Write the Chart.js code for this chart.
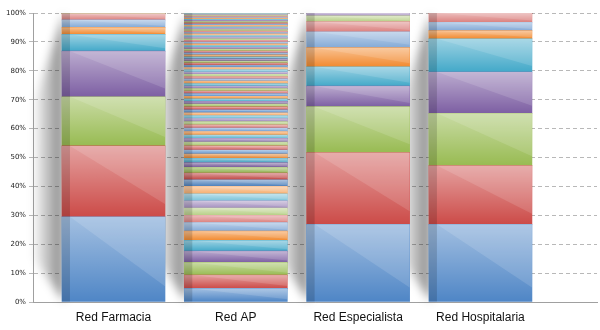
<!DOCTYPE html>
<html>
<head>
<meta charset="utf-8">
<title>Redes</title>
<script src="https://cdn.jsdelivr.net/npm/chart.js@4/dist/chart.umd.min.js"></script>
<style>
  html, body { margin: 0; padding: 0; background: #fff; }
  .chart-container { position: relative; width: 600px; height: 330px; }
</style>
</head>
<body>
<div class="chart-container">
  <canvas id="myChart" width="600" height="330"></canvas>
</div>
<script>
// categories (x axis)
const categories = ['Red Farmacia', 'Red AP', 'Red Especialista', 'Red Hospitalaria'];

// share of each series (%) per network, bottom to top
const redFarmacia = [29.5, 24.5, 17.0, 15.8, 5.8, 2.4, 2.6, 2.1, 0.3];
const redAP = [
    4.7, 4.6, 4.4, 3.9, 3.7, 3.2, 3.0, 2.5, 2.5, 2.5, 2.4, 2.6, 2.3, 2.3, 2.0,
    1.6, 1.5, 1.5, 1.4, 1.4, 1.3, 1.3, 1.2, 1.2, 1.2, 1.1, 1.1, 1.1, 1.0, 1.0,
    1.0, 1.0, 0.95, 0.95, 0.9, 0.9, 0.9, 0.9, 0.85, 0.85, 0.85, 0.85, 0.8, 0.8, 0.8, 0.8, 0.8,
    0.75, 0.75, 0.75, 0.75, 0.7,
    0.7, 0.7, 0.7, 0.65, 0.65, 0.65, 0.6, 0.6, 0.6, 0.6, 0.55, 0.55, 0.55, 0.55,
    0.5, 0.5, 0.5, 0.5, 0.5, 0.45, 0.45, 0.45, 0.45, 0.4, 0.4, 0.4, 0.35, 0.35, 0.3,
    0.3, 0.25, 0.2
];
const redEspecialista = [26.9, 24.8, 15.9, 7.1, 6.7, 6.6, 5.5, 3.5, 2.0, 1.0];
const redHospitalaria = [26.9, 20.3, 18.1, 14.3, 11.5, 2.8, 2.9, 3.2];

// y axis ticks
const yTicks = [0, 10, 20, 30, 40, 50, 60, 70, 80, 90, 100];

const rows = [redFarmacia, redAP, redEspecialista, redHospitalaria];

// office-style accent colours, then lighter / darker rounds
const baseColors = ['#4f86c6', '#cc4b48', '#98bb52', '#7d5fa3', '#43a9c9', '#f28a2f'];
const roundTint = [0, 0.3, -0.06, 0.12, 0.2, 0, 0.08, 0.22, -0.08, 0.04, 0.16, 0.1, -0.04, 0.14];

function tint(hex, t) {
    const n = parseInt(hex.slice(1), 16);
    let r = n >> 16, g = (n >> 8) & 255, b = n & 255;
    if (t >= 0) {
        r += (255 - r) * t; g += (255 - g) * t; b += (255 - b) * t;
    } else {
        r *= 1 + t; g *= 1 + t; b *= 1 + t;
    }
    return `rgb(${Math.round(r)}, ${Math.round(g)}, ${Math.round(b)})`;
}

const seriesCount = Math.max(...rows.map(r => r.length));
const datasets = [];
for (let j = 0; j < seriesCount; j++) {
    datasets.push({
        label: 'Serie ' + (j + 1),
        data: rows.map((r, i) => ({ x: i, y: r[j] || 0 })),
        backgroundColor: tint(baseColors[j % 6], roundTint[Math.floor(j / 6) % roundTint.length]),
        borderWidth: 0,
        barThickness: 103
    });
}

// soft shadow thrown to the left of each column
const columnShadow = {
    id: 'columnShadow',
    beforeDatasetsDraw(chart) {
        const { ctx } = chart;
        const metas = chart.getSortedVisibleDatasetMetas();
        metas[0].data.forEach((bar, i) => {
            let top = Infinity;
            metas.forEach(m => { if (m.data[i]) top = Math.min(top, m.data[i].y); });
            const left = bar.x - bar.width / 2;
            const base = bar.base;
            const h = base - top;
            ctx.save();
            ctx.filter = 'blur(5px)';
            const g = ctx.createLinearGradient(left - 30, 0, left, 0);
            g.addColorStop(0, 'rgba(0,0,0,0)');
            g.addColorStop(1, 'rgba(0,0,0,0.46)');
            ctx.fillStyle = g;
            ctx.beginPath();
            ctx.moveTo(left + 2, top);
            ctx.lineTo(left - 26, top + h * 0.3);
            ctx.lineTo(left - 28, base - 44);
            ctx.lineTo(left + 2, base);
            ctx.closePath();
            ctx.fill();
            ctx.restore();
        });
    }
};

// glossy finish: light top, diagonal sheen, darker side face
const gloss = {
    id: 'gloss',
    afterDatasetsDraw(chart) {
        const { ctx } = chart;
        chart.getSortedVisibleDatasetMetas().forEach(meta => {
            meta.data.forEach(bar => {
                const top = Math.min(bar.y, bar.base);
                const h = Math.abs(bar.base - bar.y);
                if (h < 0.5) return;
                const left = bar.x - bar.width / 2;
                const w = bar.width;
                ctx.save();
                const g = ctx.createLinearGradient(0, top, 0, top + h);
                g.addColorStop(0, 'rgba(255,255,255,0.48)');
                g.addColorStop(1, 'rgba(255,255,255,0)');
                ctx.fillStyle = g;
                ctx.fillRect(left, top, w, h);
                ctx.beginPath();
                ctx.moveTo(left + 8, top);
                ctx.lineTo(left + w, top);
                ctx.lineTo(left + w, top + h * 0.82);
                ctx.closePath();
                ctx.fillStyle = 'rgba(255,255,255,0.13)';
                ctx.fill();
                ctx.fillStyle = 'rgba(0,0,0,0.15)';
                ctx.fillRect(left, top, 8, h);
                ctx.restore();
            });
        });
    }
};

const ctx = document.getElementById('myChart').getContext('2d');
new Chart(ctx, {
    type: 'bar',
    data: { datasets },
    options: {
        responsive: false,
        animation: false,
        layout: { padding: { top: 13, right: 3, left: 0, bottom: 0 } },
        plugins: {
            legend: { display: false },
            tooltip: { enabled: false }
        },
        scales: {
            x: {
                type: 'linear',
                stacked: true,
                offset: false,
                min: -0.658,
                max: 3.953,
                afterBuildTicks: s => { s.ticks = categories.map((c, i) => ({ value: i })); },
                afterFit: s => { s.height = 28; },
                grid: { display: false, drawTicks: false },
                border: { display: true, color: '#a0a0a0' },
                ticks: {
                    padding: 8,
                    color: '#111',
                    font: { family: 'Liberation Sans', size: 12 },
                    callback: v => categories[v]
                }
            },
            y: {
                stacked: true,
                min: 0,
                max: 100,
                afterBuildTicks: s => { s.ticks = yTicks.map(v => ({ value: v })); },
                afterFit: s => { s.width = 33; },
                grid: { color: '#b8b8b8', tickLength: 4 },
                border: { display: true, color: '#a0a0a0', dash: [4, 3] },
                ticks: {
                    padding: 3,
                    color: '#222',
                    font: { family: 'DejaVu Sans', size: 7 },
                    callback: v => v + '%'
                }
            }
        }
    },
    plugins: [columnShadow, gloss]
});
</script>
</body>
</html>
